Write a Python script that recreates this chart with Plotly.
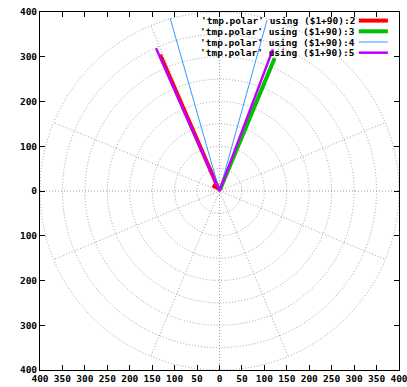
import numpy as np
import plotly.graph_objects as go

# polar data, angle already shifted by +90 (gnuplot "using ($1+90):N")
labels = ["'tmp.polar' using ($1+90):2",
          "'tmp.polar' using ($1+90):3",
          "'tmp.polar' using ($1+90):4",
          "'tmp.polar' using ($1+90):5"]
col2_theta = [113.5, 113.5, 140.0]
col2_r = [332, 6, 20]
col3_theta = [67.5, 67.5]
col3_r = [321, 3]
col4_theta = [105.9, 0.0, 74.5]
col4_r = [402, 0, 396]
col5_theta = [113.9, 0.0, 69.4]
col5_r = [349, 0, 338]

colors = ["#ff0000", "#00c000", "#3399ff", "#c000ff"]
widths = [4, 4, 1, 2.5]

grid_r = [50, 100, 150, 200, 250, 300, 350, 400]
grid_spokes = [22.5, 67.5, 112.5, 157.5, 202.5, 247.5, 292.5, 337.5]
xticks = list(range(-400, 401, 50))
yticks = list(range(-400, 401, 100))

FONT = dict(family="DejaVu Sans Mono", size=9.5, color="black", weight="bold")
GRID = dict(color="#a0a0a0", width=1, dash="1px,2px")


def to_xy(theta, r):
    t = np.radians(np.array(theta, dtype=float))
    r = np.array(r, dtype=float)
    return r * np.cos(t), r * np.sin(t)


fig = go.Figure()

# polar grid: circles + spokes + zero axes
for r in grid_r:
    fig.add_shape(type="circle", xref="x", yref="y", x0=-r, y0=-r, x1=r, y1=r,
                  line=GRID, layer="below")
for a in grid_spokes:
    sx, sy = to_xy([a, a], [0, 400])
    fig.add_trace(go.Scatter(x=sx, y=sy, mode="lines", line=GRID,
                             hoverinfo="skip", showlegend=False))
fig.add_trace(go.Scatter(x=[-400, 400], y=[0, 0], mode="lines", line=GRID,
                         hoverinfo="skip", showlegend=False))
fig.add_trace(go.Scatter(x=[0, 0], y=[-400, 400], mode="lines", line=GRID,
                         hoverinfo="skip", showlegend=False))

series = [(col2_theta, col2_r), (col3_theta, col3_r),
          (col4_theta, col4_r), (col5_theta, col5_r)]
for i, (th, rr) in enumerate(series):
    x, y = to_xy(th, rr)
    fig.add_trace(go.Scatter(x=x, y=y, mode="lines", name=labels[i],
                             line=dict(color=colors[i], width=widths[i]),
                             showlegend=False))

# gnuplot style key: text on the left, sample line on the right
key_top = 0.976
key_step = 0.0299
for i, lab in enumerate(labels):
    yy = key_top - i * key_step
    fig.add_annotation(xref="paper", yref="paper", x=0.884, y=yy, text=lab,
                       showarrow=False, xanchor="right", yanchor="middle",
                       font=FONT)
    fig.add_shape(type="line", xref="paper", yref="paper",
                  x0=0.888, x1=0.969, y0=yy, y1=yy,
                  line=dict(color=colors[i], width=widths[i]))

axis = dict(showline=True, linecolor="black", linewidth=1, mirror="ticks",
            ticks="inside", ticklen=5, tickcolor="black", showgrid=False,
            zeroline=False, tickfont=FONT, automargin=False,
            ticklabeloverflow="allow")
fig.update_xaxes(range=[-400, 400], tickvals=xticks,
                 ticktext=[str(abs(v)) for v in xticks], **axis)
fig.update_yaxes(range=[-400, 400], tickvals=yticks,
                 ticktext=[str(abs(v)) for v in yticks], **axis)

fig.update_layout(width=407, height=387,
                  margin=dict(l=40, r=8, t=12, b=17),
                  plot_bgcolor="white", paper_bgcolor="white",
                  showlegend=False)

# drop the default 8px page margin so the figure sits at the window corner
fig.write_html("out.html", config={"displayModeBar": False},
               post_script="document.body.style.margin='0';")
